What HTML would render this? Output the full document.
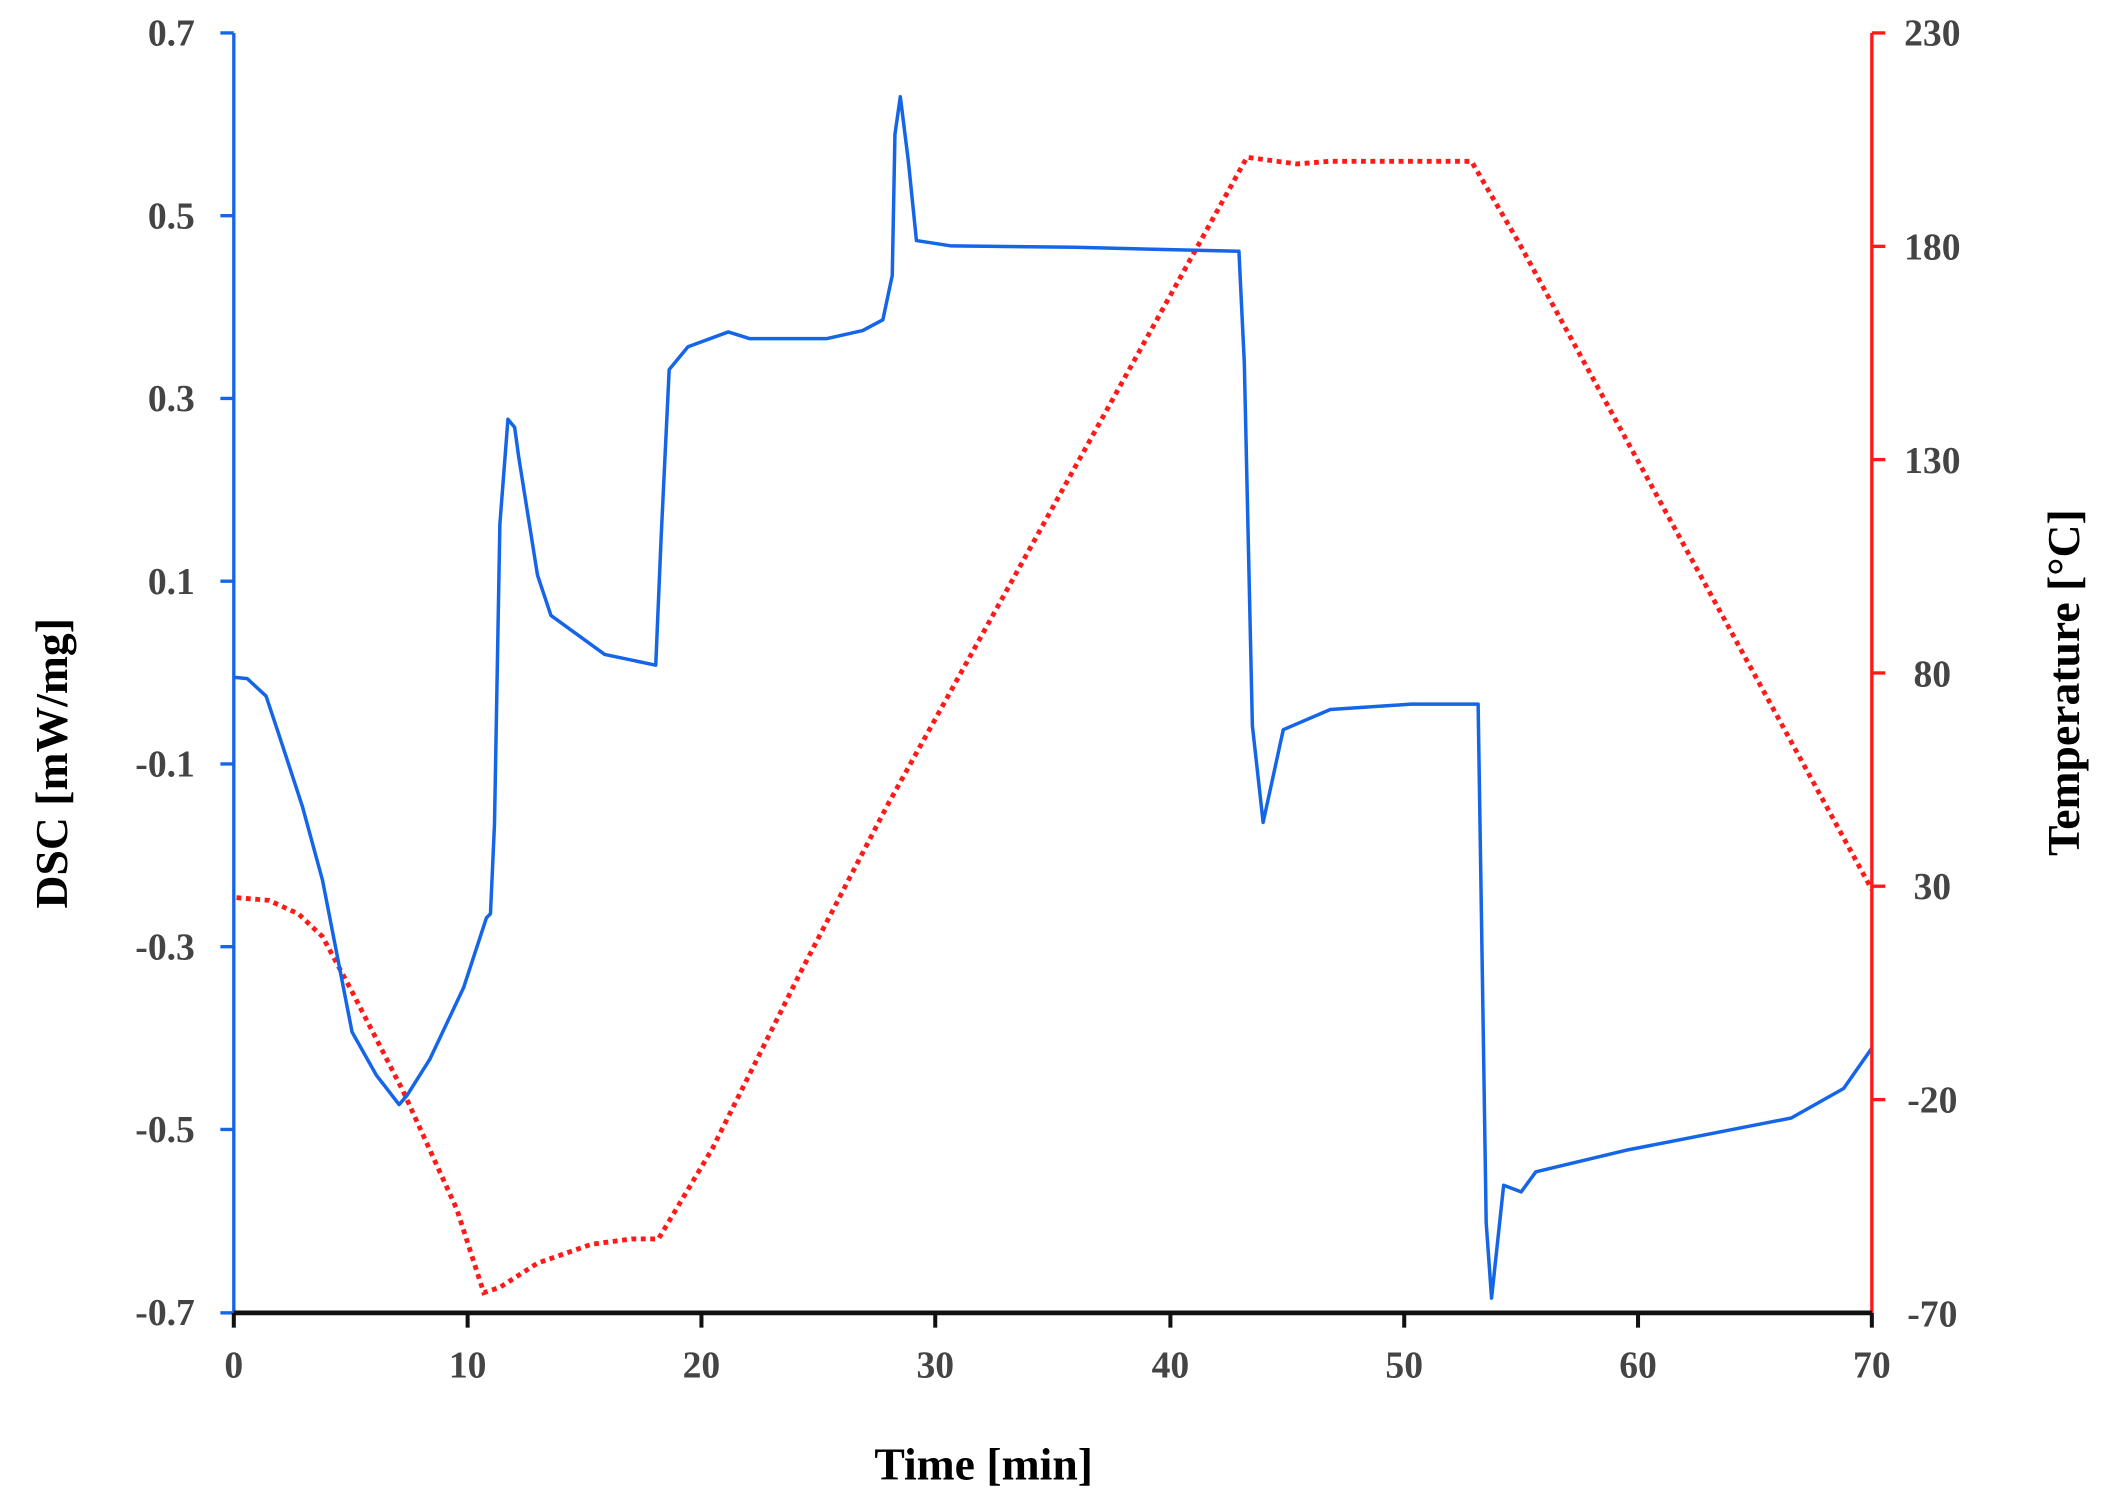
<!DOCTYPE html>
<html><head><meta charset="utf-8"><style>
html,body{margin:0;padding:0;background:#fff;}
svg{display:block;}
.t{font-family:"Liberation Serif",serif;font-weight:bold;font-size:28px;fill:#444;}
.ti{font-family:"Liberation Serif",serif;font-weight:bold;font-size:34px;fill:#000;}
</style></head><body>
<svg width="2107" height="1508" viewBox="0 0 1568 1122.2" xmlns="http://www.w3.org/2000/svg">
<rect width="1568" height="1122.2" fill="#fff"/>
<polyline fill="none" stroke="#ff1a1a" stroke-width="3.6" stroke-dasharray="3.6 3.4" points="176,668 200,670 222,680 240,697 262,738 300,812 340,900 360,962 372,958 400,940 440,926 470,922 490,922 530,855 595,725 660,600 928,117 965,122 990,120 1095,120 1130,180 1393,662"/>
<polyline fill="none" stroke="#1565e8" stroke-width="2.6" stroke-linejoin="round" points="174,504 184,505 198,518 208,548 225,600 240,655 262,768 280,800 297,822 303,815 320,788 345,735 362,683 365,680 368,613 372,390 378,312 383,318 386,340 400,428 410,458 450,487 488,495 492,400 498,275 512,258 542,247 558,252 615,252 642,246 657,238 664,205 666,100 670,72 676,120 682,179 708,183 800,184 922,187 926,270 932,540 940,612 955,543 990,528 1050,524 1100,524 1104,780 1106,910 1110,966 1119,882 1132,887 1143,872 1210,856 1333,832 1372,810 1393,780"/>
<line x1="174" y1="24.5" x2="174" y2="977" stroke="#1565e8" stroke-width="2.5"/>
<line x1="1393" y1="24.5" x2="1393" y2="977" stroke="#ff1a1a" stroke-width="2.5"/>
<line x1="174" y1="977" x2="1393" y2="977" stroke="#111" stroke-width="3.5"/>
<g stroke="#1565e8" stroke-width="2.5">
<line x1="164" y1="24.5" x2="174" y2="24.5"/><line x1="164" y1="160.5" x2="174" y2="160.5"/><line x1="164" y1="296.5" x2="174" y2="296.5"/><line x1="164" y1="432.5" x2="174" y2="432.5"/><line x1="164" y1="568.5" x2="174" y2="568.5"/><line x1="164" y1="704.5" x2="174" y2="704.5"/><line x1="164" y1="840.5" x2="174" y2="840.5"/><line x1="164" y1="977" x2="174" y2="977"/>
</g>
<g stroke="#ff1a1a" stroke-width="2.5">
<line x1="1393" y1="24.5" x2="1403" y2="24.5"/><line x1="1393" y1="183.3" x2="1403" y2="183.3"/><line x1="1393" y1="342" x2="1403" y2="342"/><line x1="1393" y1="500.8" x2="1403" y2="500.8"/><line x1="1393" y1="659.5" x2="1403" y2="659.5"/><line x1="1393" y1="818.3" x2="1403" y2="818.3"/>
</g>
<g stroke="#111" stroke-width="3">
<line x1="174" y1="977" x2="174" y2="988"/><line x1="348" y1="977" x2="348" y2="988"/><line x1="522" y1="977" x2="522" y2="988"/><line x1="696" y1="977" x2="696" y2="988"/><line x1="871" y1="977" x2="871" y2="988"/><line x1="1045" y1="977" x2="1045" y2="988"/><line x1="1219" y1="977" x2="1219" y2="988"/><line x1="1393" y1="977" x2="1393" y2="988"/>
</g>
<g class="t" text-anchor="end">
<text x="145" y="34">0.7</text><text x="145" y="170">0.5</text><text x="145" y="306">0.3</text><text x="145" y="442">0.1</text><text x="145" y="578">-0.1</text><text x="145" y="714">-0.3</text><text x="145" y="850">-0.5</text><text x="145" y="986">-0.7</text>
</g>
<g class="t" text-anchor="middle">
<text x="1438" y="34">230</text><text x="1438" y="193">180</text><text x="1438" y="352">130</text><text x="1438" y="511">80</text><text x="1438" y="669">30</text><text x="1438" y="828">-20</text><text x="1438" y="987">-70</text>
<text x="174" y="1025">0</text><text x="348" y="1025">10</text><text x="522" y="1025">20</text><text x="696" y="1025">30</text><text x="871" y="1025">40</text><text x="1045" y="1025">50</text><text x="1219" y="1025">60</text><text x="1393" y="1025">70</text>
</g>
<text class="ti" x="732" y="1101" text-anchor="middle">Time [min]</text>
<text class="ti" transform="translate(50,568) rotate(-90)" text-anchor="middle">DSC [mW/mg]</text>
<text class="ti" transform="translate(1547,508) rotate(-90)" text-anchor="middle">Temperature [°C]</text>
</svg>
</body></html>
